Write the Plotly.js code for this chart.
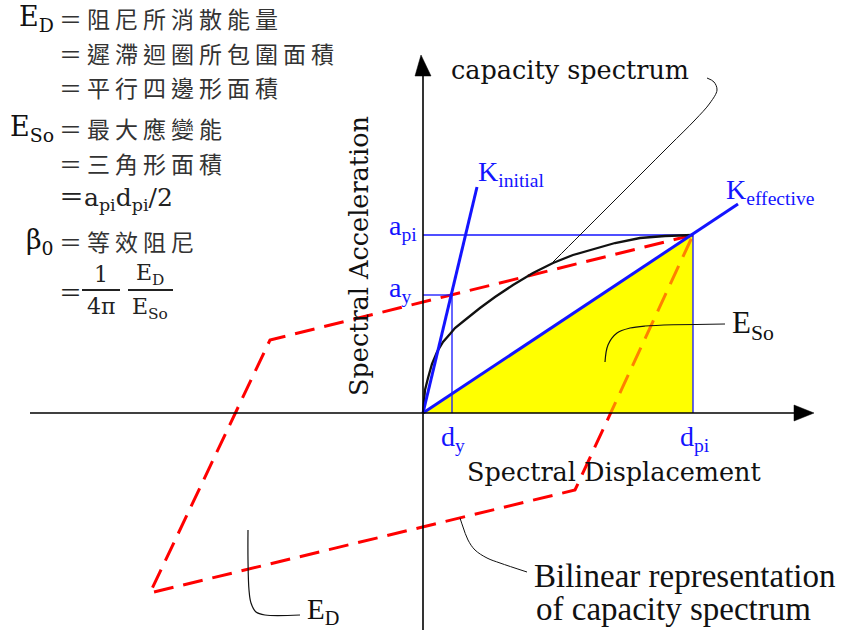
<!DOCTYPE html>
<html>
<head>
<meta charset="utf-8">
<script src="https://cdn.plot.ly/plotly-3.0.1.min.js"></script>
<style>html,body{margin:0;padding:0;background:#fff;}#chart{width:846px;height:630px;}</style>
</head>
<body>
<div id="chart"></div>
<script>
// ---- data (spectral displacement / spectral acceleration, diagram units) ----
const capacityD = [0, 1, 2, 5, 9, 14, 20, 27, 32, 42, 57, 72, 90, 110, 130, 150, 170, 192, 217, 242, 270];
const capacityA = [0, 13, 23, 35, 49, 61, 71, 79, 85, 93, 105, 116, 128, 140, 150, 158, 164, 170, 175, 177, 178];

const loopD = [270, -153, -273, 152, 270];
const loopA = [178, 73, -180, -77, 178];

const dY = 29, aY = 118;
const dPi = 270, aPi = 178;

const kInitialD = [0, 54];
const kInitialA = [0, 226];
const kEffectiveD = [0, 315];
const kEffectiveA = [0, 209];

const triangleD = [0, dPi, dPi, 0];
const triangleA = [0, aPi, 0, 0];

const xAxisD = [-393, 372];
const yAxisA = [-217, 338];
const xArrowD = [371, 391, 371, 371];
const xArrowA = [8, 0, -8, 8];
const yArrowD = [-8, -2, 8, -8];
const yArrowA = [337, 358, 337, 337];

const leaderCapD = [130, 157, 187, 217, 247, 272, 287, 294, 291, 284];
const leaderCapA = [151, 178, 208, 238, 268, 293, 310, 323, 331, 335];
const leaderEsoD = [182, 185, 194, 207, 222, 302];
const leaderEsoA = [51, 68, 80, 85, 87, 89];
const leaderEdD = [-175, -175, -174, -172, -167, -158, -123];
const leaderEdA = [-117, -147, -177, -190, -199, -202, -202];
const leaderBiD = [37, 40, 45, 52, 64, 77, 104];
const leaderBiA = [-105, -114, -127, -137, -145, -150, -159];

// ---- text ----
const cjkLines = ['＝阻尼所消散能量', '＝遲滯迴圈所包圍面積', '＝平行四邊形面積', '＝最大應變能', '＝三角形面積', '＝等效阻尼'];
const symbolLabels = ['E<sub>D</sub>', 'E<sub>So</sub>', 'β<sub>0</sub>'];
const formulaLine = '＝a<sub>pi</sub>d<sub>pi</sub>/2';
const fracParts = ['＝', '1', '4π', 'E<sub>D</sub>', 'E<sub>So</sub>'];
const axisTitles = ['Spectral Displacement', 'Spectral Acceleration'];
const curveLabels = ['capacity spectrum', 'K<sub>initial</sub>', 'K<sub>effective</sub>', 'E<sub>So</sub>', 'E<sub>D</sub>', 'Bilinear representation', 'of capacity spectrum'];
const tickLabels = ['a<sub>pi</sub>', 'a<sub>y</sub>', 'd<sub>y</sub>', 'd<sub>pi</sub>'];

const SERIF = 'DejaVu Serif, Liberation Serif, serif';
const TIMES = 'Liberation Serif, DejaVu Serif, serif';
const CJK = 'Noto Sans CJK TC, Noto Sans CJK SC, sans-serif';
const BLUE = '#1414ff';

function line(x, y, color, width, extra) {
  return Object.assign({x: x, y: y, mode: 'lines', hoverinfo: 'skip', showlegend: false,
    line: {color: color, width: width}}, extra || {});
}

const traces = [
  {x: triangleD, y: triangleA, mode: 'lines', fill: 'toself', fillcolor: '#ffff00',
   line: {width: 0, color: 'rgba(0,0,0,0)'}, hoverinfo: 'skip', showlegend: false},
  line(loopD, loopA, '#ff0000', 3, {line: {color: '#ff0000', width: 3, dash: '20px,10px'}}),
  {x: triangleD, y: triangleA, mode: 'lines', fill: 'toself', fillcolor: 'rgba(255,255,0,0.5)',
   line: {width: 0, color: 'rgba(0,0,0,0)'}, hoverinfo: 'skip', showlegend: false},
  line([0, dPi], [aPi, aPi], BLUE, 1.3),
  line([dPi, dPi], [aPi, 0], BLUE, 1.3),
  line([0, dY], [aY, aY], BLUE, 1.3),
  line([dY, dY], [aY, 0], BLUE, 1.3),
  line(capacityD, capacityA, '#111', 2.3),
  line(kInitialD, kInitialA, BLUE, 3),
  line(kEffectiveD, kEffectiveA, BLUE, 3),
  line(xAxisD, [0, 0], '#000', 1.6),
  line([0, 0], yAxisA, '#000', 1.6),
  {x: xArrowD, y: xArrowA, mode: 'lines', fill: 'toself', fillcolor: '#000', line: {width: 0.5, color: '#000'}, hoverinfo: 'skip', showlegend: false},
  {x: yArrowD, y: yArrowA, mode: 'lines', fill: 'toself', fillcolor: '#000', line: {width: 0.5, color: '#000'}, hoverinfo: 'skip', showlegend: false},
  line(leaderCapD, leaderCapA, '#111', 1, {line: {color: '#111', width: 1, shape: 'spline'}}),
  line(leaderEsoD, leaderEsoA, '#111', 1.2, {line: {color: '#111', width: 1.2, shape: 'spline'}}),
  line(leaderEdD, leaderEdA, '#111', 1.2, {line: {color: '#111', width: 1.2, shape: 'spline'}}),
  line(leaderBiD, leaderBiA, '#111', 1, {line: {color: '#111', width: 1, shape: 'spline'}})
];

function ann(x, y, text, size, family, color, xanchor, extra) {
  return Object.assign({x: x, y: y, xref: 'x', yref: 'y', text: text, showarrow: false,
    xanchor: xanchor || 'left', yanchor: 'middle',
    font: {size: size, family: family, color: color || '#111'}}, extra || {});
}
const sp = t => '<span style="letter-spacing:5px">' + t + '</span>';

const annotations = [
  ann(-367, 395, symbolLabels[0], 27, SERIF, '#111', 'right'),
  ann(-366, 395, sp(cjkLines[0]), 23, CJK, '#333'),
  ann(-366, 360, sp(cjkLines[1]), 23, CJK, '#333'),
  ann(-366, 326, sp(cjkLines[2]), 23, CJK, '#333'),
  ann(-367, 285, symbolLabels[1], 27, SERIF, '#111', 'right'),
  ann(-366, 285, sp(cjkLines[3]), 23, CJK, '#333'),
  ann(-366, 250, sp(cjkLines[4]), 23, CJK, '#333'),
  ann(-366, 214, formulaLine, 25, SERIF + ', ' + CJK, '#222'),
  ann(-367, 172, symbolLabels[2], 27, SERIF, '#111', 'right'),
  ann(-366, 172, sp(cjkLines[5]), 23, CJK, '#333'),
  ann(-366, 122, fracParts[0], 23, CJK, '#222'),
  ann(-322, 139, fracParts[1], 22, SERIF, '#222', 'center'),
  ann(-322, 107, fracParts[2], 22, SERIF, '#222', 'center'),
  ann(-273, 139, fracParts[3], 22, SERIF, '#222', 'center'),
  ann(-273, 105, fracParts[4], 22, SERIF, '#222', 'center'),
  ann(191, -59, axisTitles[0], 25.5, SERIF, '#111', 'center'),
  ann(-64, 157, axisTitles[1], 25.5, SERIF, '#111', 'center', {textangle: -90}),
  ann(147, 343, curveLabels[0], 25.5, SERIF, '#111', 'center'),
  ann(53, 240, curveLabels[1], 28, TIMES, BLUE),
  ann(301, 222, curveLabels[2], 28, TIMES, BLUE),
  ann(307, 88, curveLabels[3], 31, TIMES, '#111'),
  ann(-118, -198, curveLabels[4], 29, TIMES, '#111'),
  ann(109, -163, curveLabels[5], 33, TIMES, '#111'),
  ann(111, -196, curveLabels[6], 33, TIMES, '#111'),
  ann(-4, 186, tickLabels[0], 28, TIMES, BLUE, 'right'),
  ann(-10, 124, tickLabels[1], 28, TIMES, BLUE, 'right'),
  ann(30, -25, tickLabels[2], 28, TIMES, BLUE, 'center'),
  ann(272, -25, tickLabels[3], 28, TIMES, BLUE, 'center')
];

const shapes = [
  {type: 'line', xref: 'x', yref: 'y', x0: -341, x1: -303, y0: 123, y1: 123, line: {color: '#222', width: 1.8}},
  {type: 'line', xref: 'x', yref: 'y', x0: -295, x1: -250, y0: 123, y1: 123, line: {color: '#222', width: 1.8}}
];

const layout = {
  width: 846, height: 630,
  margin: {l: 0, r: 0, t: 0, b: 0},
  paper_bgcolor: '#fff', plot_bgcolor: '#fff',
  showlegend: false,
  xaxis: {range: [-423, 423], visible: false, fixedrange: true},
  yaxis: {range: [-217, 413], visible: false, fixedrange: true},
  annotations: annotations,
  shapes: shapes
};

Plotly.newPlot('chart', traces, layout, {displayModeBar: false});
</script>
</body>
</html>
